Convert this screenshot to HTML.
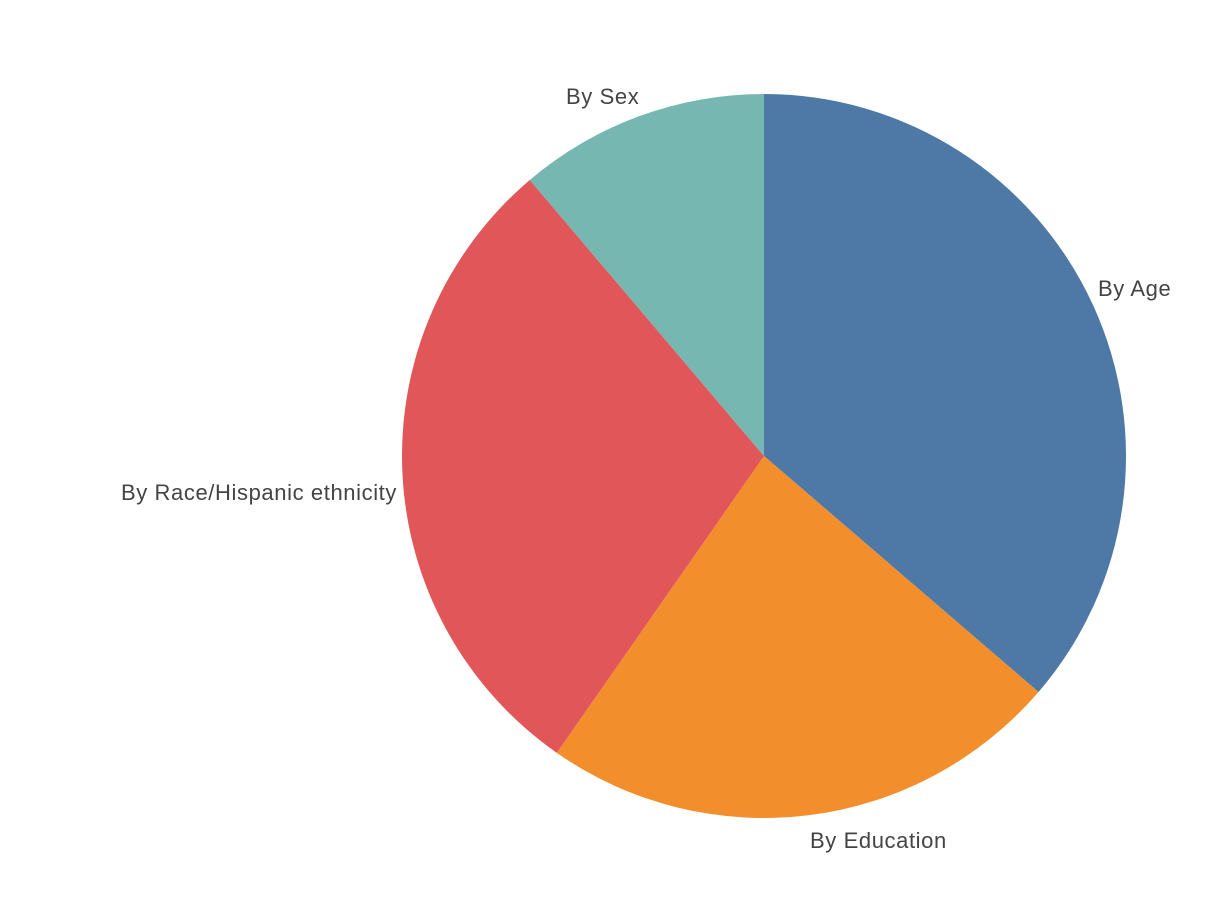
<!DOCTYPE html>
<html>
<head>
<meta charset="utf-8">
<style>
  html,body{margin:0;padding:0;background:#fff;}
  svg{display:block;}
  text{font-family:"Liberation Sans",sans-serif;font-size:22px;fill:#444;letter-spacing:0.6px;}
</style>
</head>
<body>
<svg id="chart" width="1209" height="899"></svg>
<script>
const categories = ["By Age", "By Education", "By Race/Hispanic ethnicity", "By Sex"];
const values = [36.3, 23.4, 29.1, 11.2];
const colors = ["#4e79a7", "#f28e2b", "#e15759", "#76b7b2"];

const svg = document.getElementById('chart');
const NS = 'http://www.w3.org/2000/svg';
const cx = 764, cy = 456, r = 362;
const labelPos = [[1098,296,'start'],[810,848,'start'],[397,500,'end'],[566,104,'start']];
const total = values.reduce((a,b)=>a+b,0);
function pt(angle, rad){ return [cx + rad*Math.sin(angle), cy - rad*Math.cos(angle)]; }

let start = 0;
values.forEach((v,i)=>{
  const sweep = v/total*2*Math.PI;
  const end = start + sweep;
  const [x0,y0] = pt(start,r), [x1,y1] = pt(end,r);
  const large = sweep > Math.PI ? 1 : 0;
  const p = document.createElementNS(NS,'path');
  p.setAttribute('d', `M${cx},${cy} L${x0},${y0} A${r},${r} 0 ${large} 1 ${x1},${y1} Z`);
  p.setAttribute('fill', colors[i]);
  
  
  svg.appendChild(p);

  const t = document.createElementNS(NS,'text');
  t.textContent = categories[i];
  t.setAttribute('x', labelPos[i][0]);
  t.setAttribute('y', labelPos[i][1]);
  t.setAttribute('text-anchor', labelPos[i][2]);
  
  
  svg.appendChild(t);
  start = end;
});
</script>
</body>
</html>
